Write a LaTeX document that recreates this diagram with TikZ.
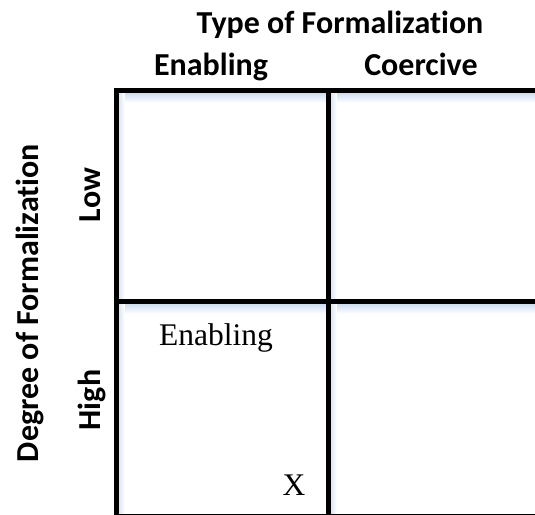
\documentclass[tikz,border=0pt]{standalone}
\usepackage{fontspec}
\setmainfont{Liberation Serif}
\newfontfamily\headfont[Ligatures=NoCommon]{Carlito}
\usetikzlibrary{positioning}
\definecolor{shadowblue}{RGB}{205,222,240}
\tikzset{
cellbox/.style={rectangle,minimum width=212pt,minimum height=211pt,draw=black,line width=5pt,outer sep=0pt,inner sep=0pt}
}
\tikzset{
headtxt/.style={font=\headfont\bfseries\fontsize{32}{33}\selectfont,inner sep=0pt}
}
\tikzset{
celltxt/.style={font=\fontsize{31.5}{33}\selectfont,inner sep=0pt}
}
\begin{document}
\begin{tikzpicture}[x=1pt,y=1pt]
\useasboundingbox (0,0) rectangle (535,-514);
% cells
\node[cellbox] (A1) at (222.5,-196) {};
\node[cellbox,right=0 of A1] (A2) {};
\node[cellbox,minimum height=214.8pt,below=0 of A1] (B1) {};
\node[cellbox,minimum height=214.8pt,right=0 of B1] (B2) {};
%------------------------------------------------------------%
% light shadow along the lines
\shade[top color=shadowblue,bottom color=white] ([yshift=-2.5pt]A1.north west) rectangle ([yshift=-12pt]A2.north east);
\shade[top color=shadowblue,bottom color=white] ([yshift=-2.5pt]B1.north west) rectangle ([yshift=-12pt]B2.north east);
\shade[left color=shadowblue!70,right color=white] ([xshift=2.5pt]A2.north west) rectangle ([xshift=8pt,yshift=3pt]B2.south west);
\shade[left color=shadowblue!70,right color=white] ([xshift=2.5pt]A1.north west) rectangle ([xshift=8pt,yshift=3pt]B1.south west);
\draw[line width=5pt] (A1.north west) -- (A2.north east);
\draw[line width=5pt] (B1.north west) -- (B2.north east);
\draw[line width=5pt] (A1.north west) -- (B1.south west);
\draw[line width=5pt] (A2.north west) -- (B2.south west);
%------------------------------------------------------------%
\node[headtxt,anchor=base] (type) at (340,-33) {Type of Formalization};
\node[headtxt,anchor=base] (enab) at (211,-75) {Enabling};
\node[headtxt,anchor=base] (coer) at (421,-75) {Coercive};
\node[headtxt,rotate=90,anchor=base] (deg) at (38,-303) {Degree of Formalization};
\node[headtxt,rotate=90,anchor=base] (low) at (100,-195) {Low};
\node[headtxt,rotate=90,anchor=base] (high) at (100,-400) {High};
%\node[celltxt] (c11) at (A1) {};
\node[celltxt,anchor=base] (c21) at (216,-345) {Enabling};
\node[celltxt,anchor=base] (x21) at (294,-495) {X};
\end{tikzpicture}
\end{document}
